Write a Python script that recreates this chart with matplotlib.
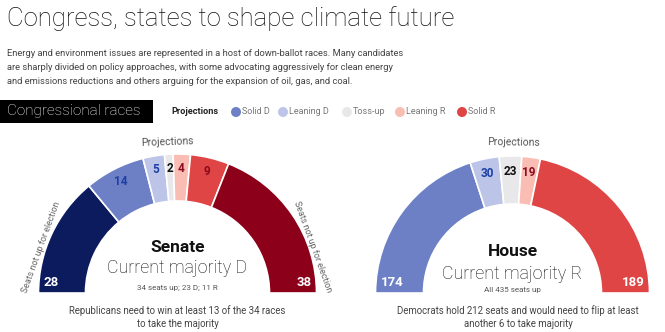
import matplotlib.pyplot as plt
from matplotlib.patches import Wedge, Circle, Rectangle
import numpy as np

# seat counts, left (D) to right (R)
senate_seats = [28, 14, 5, 2, 4, 9, 38]
senate_colors = ['#0c1a5e', '#6d80c6', '#bcc5e8', '#e8e8ea', '#f9bdb3', '#e04545', '#8c0019']
senate_text = ['white', '#1d3fa6', '#1d3fa6', '#111111', '#8c0a1f', '#8c0a1f', 'white']

house_seats = [174, 30, 23, 19, 189]
house_colors = ['#6d80c6', '#bcc5e8', '#e8e8ea', '#f9bdb3', '#e04545']
house_text = ['white', '#1d3fa6', '#111111', '#8c0a1f', 'white']

legend_labels = ['Solid D', 'Leaning D', 'Toss-up', 'Leaning R', 'Solid R']
legend_colors = ['#6d80c6', '#bcc5e8', '#e8e8ea', '#f9bdb3', '#e04545']

W, H = 665, 332
plt.rcParams['font.family'] = ['Roboto', 'DejaVu Sans']

fig = plt.figure(figsize=(W / 100, H / 100), dpi=100)
ax = fig.add_axes([0, 0, 1, 1])
ax.set_xlim(0, W)
ax.set_ylim(H, 0)
ax.axis('off')


def half_donut(cx, cy, r, width, seats, colors, text_colors, lab_r):
    total = sum(seats)
    start = 180.0
    n = len(seats)
    for i, (s, c, tc) in enumerate(zip(seats, colors, text_colors)):
        span = 180.0 * s / total
        end = start - span
        # y axis is flipped, so upper half lives at negative angles
        ax.add_patch(Wedge((cx, cy), r, -start, -end, width=width,
                           facecolor=c, edgecolor='white', lw=1.2))
        if i == 0:
            ax.text(cx - r + 5, cy - 10, str(s), color=tc, fontsize=9.5,
                    fontweight='bold', ha='left', va='center')
        elif i == n - 1:
            ax.text(cx + r - 5, cy - 10, str(s), color=tc, fontsize=9.5,
                    fontweight='bold', ha='right', va='center')
        else:
            mid = np.radians((start + end) / 2)
            ax.text(cx + lab_r * np.cos(mid), cy - lab_r * np.sin(mid), str(s),
                    color=tc, fontsize=8.5, fontweight='bold',
                    ha='center', va='center')
        start = end


# title and intro
ax.text(7, 19, 'Congress, states to shape climate future', fontsize=18.5,
        fontweight='light', color='#111111', ha='left', va='center')
intro = ['Energy and environment issues are represented in a host of down-ballot races. Many candidates',
         'are sharply divided on policy approaches, with some advocating aggressively for clean energy',
         'and emissions reductions and others arguing for the expansion of oil, gas, and coal.']
for k, line in enumerate(intro):
    ax.text(7, 53 + 14 * k, line, fontsize=6.75, color='#444444', ha='left', va='center')

# section header
ax.add_patch(Rectangle((0, 100), 153, 23, facecolor='black', edgecolor='none'))
ax.text(7, 111.5, 'Congressional races', fontsize=11, fontweight='light',
        color='white', ha='left', va='center')

# legend
ax.text(171, 112, 'Projections', fontsize=6.6, fontweight='bold', color='#222222',
        ha='left', va='center')
leg_x = [236, 283, 347, 400, 462]
for x, lab, c in zip(leg_x, legend_labels, legend_colors):
    ax.add_patch(Circle((x, 112), 5, facecolor=c, edgecolor='none'))
    ax.text(x + 6, 112, lab, fontsize=6.5, color='#777777', ha='left', va='center')

# Senate
scx, scy = 177.5, 293
half_donut(scx, scy, 139, 47, senate_seats, senate_colors, senate_text, 125)
ax.text(167, 142, 'Projections', fontsize=7.5, color='#555555', ha='center',
        va='center', rotation=2)
ax.text(41, 247, 'Seats not up for election', fontsize=6.4, color='#666666',
        rotation=70, ha='center', va='center')
ax.text(313, 247, 'Seats not up for election', fontsize=6.4, color='#666666',
        rotation=-70, ha='center', va='center')
ax.text(scx, 247, 'Senate', fontsize=12.5, fontweight='bold', color='#111111',
        ha='center', va='center')
ax.text(scx, 268, 'Current majority D', fontsize=12.8, fontweight='light',
        color='#111111', ha='center', va='center')
ax.text(scx, 288, '34 seats up; 23 D; 11 R', fontsize=5.8, color='#555555',
        ha='center', va='center')
ax.text(scx, 311, 'Republicans need to win at least 13 of the 34 races',
        fontsize=6.9, color='#444444', ha='center', va='center')
ax.text(scx, 324, 'to take the majority', fontsize=6.9, color='#444444',
        ha='center', va='center')

# House
hcx, hcy = 512.5, 293
half_donut(hcx, hcy, 137, 48, house_seats, house_colors, house_text, 122)
ax.text(514, 142, 'Projections', fontsize=7.5, color='#555555', ha='center',
        va='center', rotation=-1)
ax.text(hcx, 251, 'House', fontsize=12.5, fontweight='bold', color='#111111',
        ha='center', va='center')
ax.text(hcx, 274, 'Current majority R', fontsize=12.8, fontweight='light',
        color='#111111', ha='center', va='center')
ax.text(hcx, 290, 'All 435 seats up', fontsize=5.8, color='#555555',
        ha='center', va='center')
ax.text(518, 311, 'Democrats hold 212 seats and would need to flip at least',
        fontsize=6.9, color='#444444', ha='center', va='center')
ax.text(518, 324, 'another 6 to take majority', fontsize=6.9, color='#444444',
        ha='center', va='center')

fig.savefig('out.png', dpi=100, facecolor='white')
